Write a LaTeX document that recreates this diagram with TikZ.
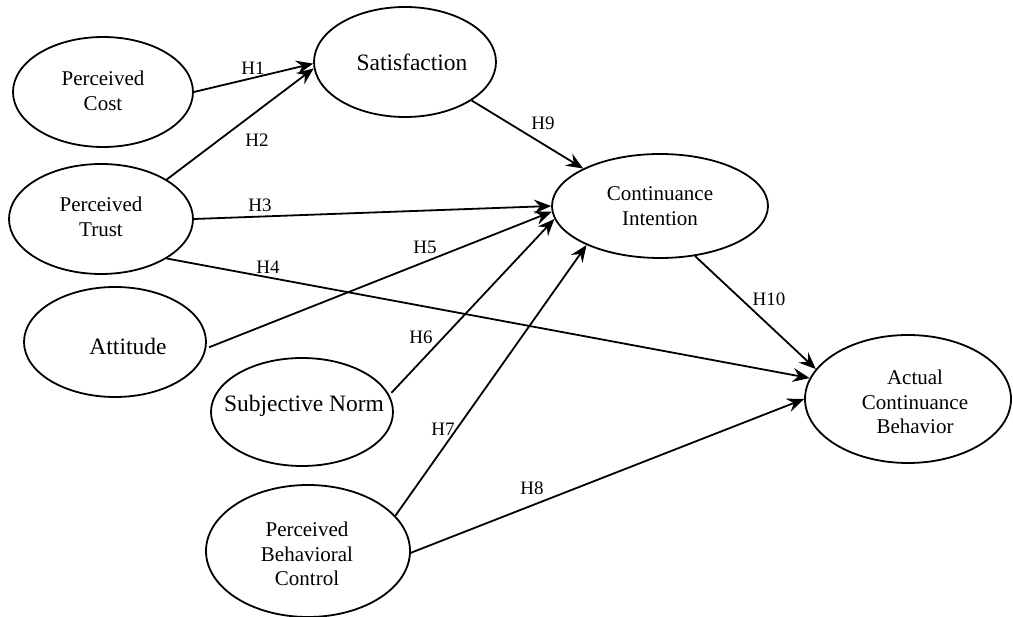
\documentclass[tikz,border=0pt]{standalone}
\usepackage{fontspec}
\setmainfont{Liberation Serif}
\newfontfamily\tnr{Liberation Serif}
\usetikzlibrary{shapes.geometric,arrows.meta}
\begin{document}
\begin{tikzpicture}[x=1pt,y=-1pt,
  ell/.style 2 args={ellipse, draw, line width=1.8pt, inner sep=0pt, minimum width=#1pt, minimum height=#2pt},
  txtA/.style={font=\tnr\fontsize{21}{24.5}\selectfont, align=center, inner sep=0pt},
  txtB/.style={font=\tnr\fontsize{23.5}{27}\selectfont, align=center, inner sep=0pt},
  hlbl/.style={font=\tnr\fontsize{19}{22}\selectfont, inner sep=0pt},
  conn/.style={line width=1.8pt, -{Stealth[length=17pt,width=14pt,inset=6pt]}},
  ]
\clip (0,0) rectangle (1013,617);
\fill[white] (0,0) rectangle (1013,617);

% ellipses
\node[ell={180}{110}] (pc)  at (103,92)  {};
\node[ell={182}{110}] (sat) at (405,62)  {};
\node[ell={184}{110}] (pt)  at (101,219) {};
\node[ell={182}{110}] (att) at (115,342) {};
\node[ell={216}{104}] (ci)  at (660,206) {};
\node[ell={182}{108}] (sn)  at (302,412) {};
\node[ell={206}{128}] (acb) at (908,399) {};
\node[ell={204}{132}] (pbc) at (308,551) {};

% texts
\node[txtA] (pcT)  at (103,91)  {Perceived\\Cost};
\node[txtB] (satT) at (412,62)  {Satisfaction};
\node[txtA] (ptT)  at (101,217) {Perceived\\Trust};
\node[txtB] (attT) at (128,346) {Attitude};
\node[txtA] (ciT)  at (660,206) {Continuance\\Intention};
\node[txtB] (snT)  at (304,406) {Subjective Norm};
\node[txtA] (acbT) at (915,402) {Actual\\Continuance\\Behavior};
\node[txtA] (pbcT) at (307,554) {Perceived\\Behavioral\\Control};

% connectors
\draw[conn] (pc.0) -- (sat.181);
\draw[conn] (pt.31) -- (sat.184);
\draw[conn] (sat.330) -- (ci.154);
\draw[conn] (pt.0) -- (ci.180);
\draw[conn, shorten <=3pt] (att.-4) -- (ci.183);
\draw[conn, shorten <=3pt] (sn.11) -- (ci.187);
\draw[conn] (pbc.22) -- (ci.208);
\draw[conn] (pt.329) -- (acb.168);
\draw[conn] (ci.305) -- (acb.162);
\draw[conn] (pbc.359) -- (acb.180);

% labels
\node[hlbl] (h1)  at (253,68)  {H1};
\node[hlbl] (h2)  at (257,140) {H2};
\node[hlbl] (h3)  at (260,205) {H3};
\node[hlbl] (h4)  at (268,267) {H4};
\node[hlbl] (h5)  at (425,247) {H5};
\node[hlbl] (h6)  at (421,337) {H6};
\node[hlbl] (h7)  at (443,429) {H7};
\node[hlbl] (h8)  at (532,488) {H8};
\node[hlbl] (h9)  at (543,123) {H9};
\node[hlbl] (h10) at (769,299) {H10};
\end{tikzpicture}
\end{document}
